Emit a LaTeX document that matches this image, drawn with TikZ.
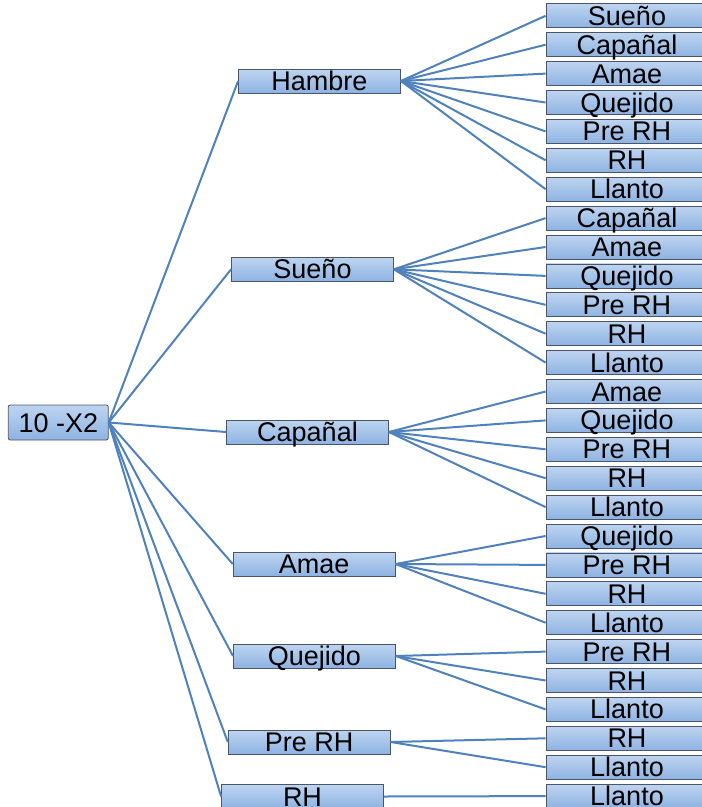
\documentclass[tikz,border=0pt]{standalone}
\usepackage{fontspec}
\setmainfont{Liberation Sans}
\definecolor{boxtop}{HTML}{BED4F0}
\definecolor{boxbot}{HTML}{8DB3E2}
\definecolor{boxline}{HTML}{4A5568}
\definecolor{edge}{HTML}{4F81BD}
\begin{document}
\begin{tikzpicture}[x=1pt,y=-1pt,
  box/.style={draw=boxline, line width=0.8pt, top color=boxtop, bottom color=boxbot,
    minimum width=162pt, minimum height=24pt, inner sep=0pt,
    text height=19pt, text depth=0pt, font=\fontsize{27}{28}\selectfont},
  rootbox/.style={box, minimum width=100pt, minimum height=35pt, rounded corners=2pt},
  link/.style={draw=edge, line width=2pt}]
\useasboundingbox (0,0) rectangle (702,807);

% root
\node[rootbox] (root) at (58.3,422.5) {10 -X2};

% first level
\node[box] (hambre)  at (319.5,81)    {Hambre};
\node[box] (sueno)   at (312.5,269.3) {Sueño};
\node[box] (capanal) at (307.5,432)   {Capañal};
\node[box] (amae)    at (314.2,564)   {Amae};
\node[box] (quejido) at (314.4,656)   {Quejido};
\node[box] (prerh)   at (309.2,742)   {Pre RH};
\node[box] (rh)      at (302.5,796.5) {RH};

% leaves, one column
\foreach \t [count=\i from 0] in {Sueño,Capañal,Amae,Quejido,Pre RH,RH,Llanto,
  Capañal,Amae,Quejido,Pre RH,RH,Llanto,
  Amae,Quejido,Pre RH,RH,Llanto,
  Quejido,Pre RH,RH,Llanto,
  Pre RH,RH,Llanto,
  RH,Llanto,
  Llanto}
  \node[box] (l\i) at (627,{15.8+28.9*\i}) {\t};

% connectors
\foreach \p in {hambre,sueno,capanal,amae,quejido,prerh,rh}
  \draw[link] (root.east) -- (\p.west);
\foreach \i in {0,...,6}   \draw[link] (hambre.east)  -- (l\i.west);
\foreach \i in {7,...,12}  \draw[link] (sueno.east)   -- (l\i.west);
\foreach \i in {13,...,17} \draw[link] (capanal.east) -- (l\i.west);
\foreach \i in {18,...,21} \draw[link] (amae.east)    -- (l\i.west);
\foreach \i in {22,...,24} \draw[link] (quejido.east) -- (l\i.west);
\foreach \i in {25,26}     \draw[link] (prerh.east)   -- (l\i.west);
\draw[link] (rh.east) -- (l27.west);
\end{tikzpicture}
\end{document}
